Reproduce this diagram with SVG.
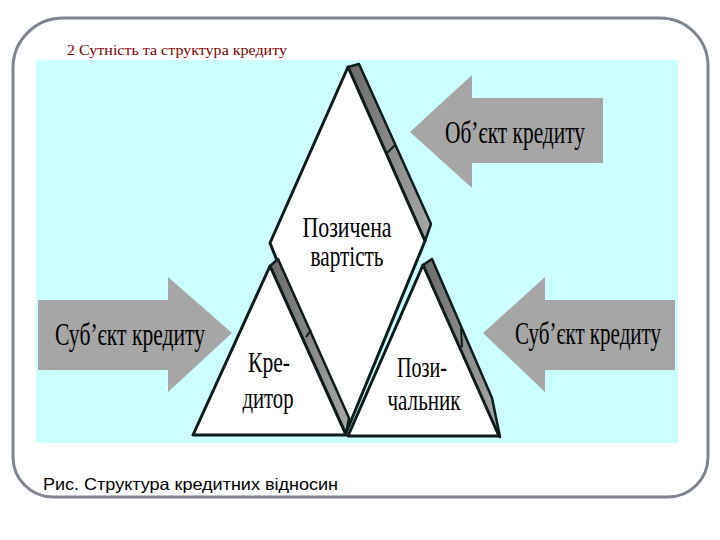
<svg xmlns="http://www.w3.org/2000/svg" width="720" height="540" viewBox="0 0 720 540">
<defs>
<style>
.lbl{font-family:'Liberation Serif',serif;font-size:29px;fill:#000;text-anchor:middle}
.arr{fill:#a6a6a6;stroke:none}
.arrtxt{font-family:'Liberation Serif',serif;font-size:32px;fill:#000;text-anchor:middle}
.tri{fill:#fff;stroke:#0e1c1c;stroke-width:3;stroke-linejoin:round}
.band{fill:url(#bandg);stroke:#0e1c1c;stroke-width:2.5;stroke-linejoin:round}
.tick{stroke:#0e1c1c;stroke-width:2}
</style>
<linearGradient id="bandg" x1="0" y1="0" x2="1" y2="0">
<stop offset="0" stop-color="#6a6a6a"/>
<stop offset="1" stop-color="#a8a8a8"/>
</linearGradient>
</defs>
<rect width="720" height="540" fill="#fff"/>
<g id="frame">
<path d="M60,18 H660 A48,48 0 0 1 708,66 V457 A40,40 0 0 1 668,497 H53 A40,40 0 0 1 13,457 V68 A50,50 0 0 1 63,18 Z" fill="none" stroke="#7e8490" stroke-width="3"/>
</g>
<g id="title">
<text x="67" y="55" font-family="Liberation Serif, Times New Roman, serif" font-size="15.5" fill="#800000" textLength="220" lengthAdjust="spacingAndGlyphs">2 Сутність та структура кредиту</text>
</g>
<g id="background">
<rect x="36" y="60" width="642" height="383" fill="#ccffff"/>
</g>
<g id="connectors"></g>
<g id="arrow-object">
<polygon class="arr" points="410,132 472,75 472,98 603,98 603,163 472,163 472,188"/>
<text class="arrtxt" x="515" y="143" font-family="Liberation Serif, serif" textLength="140" lengthAdjust="spacingAndGlyphs">Об’єкт кредиту</text>
</g>
<g id="arrow-subject-left">
<polygon class="arr" points="38,300 168,300 168,277 232,333 168,392 168,370 38,370"/>
<text class="arrtxt" x="130" y="345" font-family="Liberation Serif, serif" textLength="150" lengthAdjust="spacingAndGlyphs">Суб’єкт кредиту</text>
</g>
<g id="arrow-subject-right">
<polygon class="arr" points="483,333 545,277 545,300 675,300 675,370 545,370 545,392"/>
<text class="arrtxt" x="588" y="344" font-family="Liberation Serif, serif" textLength="146" lengthAdjust="spacingAndGlyphs">Суб’єкт кредиту</text>
</g>
<g id="node-loaned-value">
<polygon class="band" points="348,67 359,64 431,224 425,241"/>
<line class="tick" x1="387" y1="153" x2="395" y2="145"/>
<polygon class="tri" points="348,67 270,243 346,433 425,241"/>
<text class="lbl" x="347" y="237" font-family="Liberation Serif, serif" textLength="89" lengthAdjust="spacingAndGlyphs">Позичена</text>
<text class="lbl" x="347" y="266" font-family="Liberation Serif, serif" textLength="73" lengthAdjust="spacingAndGlyphs">вартість</text>
</g>
<g id="node-creditor">
<polygon class="band" points="270,266 278,259 349,418 346,434"/>
<line class="tick" x1="306" y1="337" x2="311" y2="330"/>
<polygon class="tri" points="270,266 193,435 346,435"/>
<text class="lbl" x="269" y="372" font-family="Liberation Serif, serif" textLength="42" lengthAdjust="spacingAndGlyphs">Кре-</text>
<text class="lbl" x="268" y="408" font-family="Liberation Serif, serif" textLength="51" lengthAdjust="spacingAndGlyphs">дитор</text>
</g>
<g id="node-borrower">
<polygon class="band" points="423,265 432,259 492,398 500,437 498,436"/>
<line class="tick" x1="461" y1="328" x2="462" y2="347"/>
<polygon class="tri" points="423,265 348,436 499,436"/>
<text class="lbl" x="422" y="377" font-family="Liberation Serif, serif" textLength="50" lengthAdjust="spacingAndGlyphs">Пози-</text>
<text class="lbl" x="424" y="410" font-family="Liberation Serif, serif" textLength="73" lengthAdjust="spacingAndGlyphs">чальник</text>
</g>
<g id="caption">
<text x="43" y="490" font-family="Liberation Sans, Arial, sans-serif" font-size="16.5" fill="#000" textLength="295" lengthAdjust="spacingAndGlyphs">Рис. Структура кредитних відносин</text>
</g>
</svg>
